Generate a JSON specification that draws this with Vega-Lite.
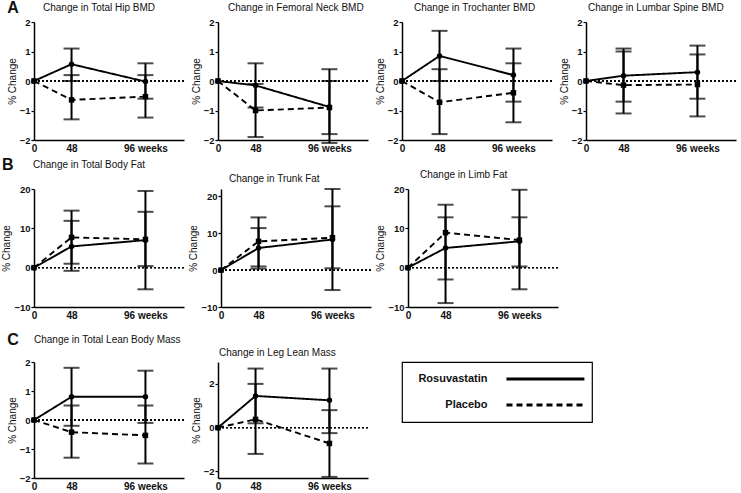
{
"$schema": "https://vega.github.io/schema/vega-lite/v6.json",
"padding": {"left": 1, "top": 0, "right": 0, "bottom": 0},
"background": "white",
"datasets": {
"d": [
{"p":"hip","g":"Rosuvastatin","w":0,"m":0},
{"p":"hip","g":"Rosuvastatin","w":48,"m":0.57,"lo":0.0,"hi":1.1},
{"p":"hip","g":"Rosuvastatin","w":96,"m":-0.02,"lo":-0.6,"hi":0.6},
{"p":"hip","g":"Placebo","w":0,"m":0},
{"p":"hip","g":"Placebo","w":48,"m":-0.64,"lo":-1.3,"hi":0.2},
{"p":"hip","g":"Placebo","w":96,"m":-0.53,"lo":-1.24,"hi":0.2},
{"p":"neck","g":"Rosuvastatin","w":0,"m":0},
{"p":"neck","g":"Rosuvastatin","w":48,"m":-0.15,"lo":-0.9,"hi":0.6},
{"p":"neck","g":"Rosuvastatin","w":96,"m":-0.88,"lo":-2.1,"hi":0.4},
{"p":"neck","g":"Placebo","w":0,"m":0},
{"p":"neck","g":"Placebo","w":48,"m":-1.0,"lo":-1.9,"hi":-0.1},
{"p":"neck","g":"Placebo","w":96,"m":-0.9,"lo":-1.8,"hi":0.0},
{"p":"troch","g":"Rosuvastatin","w":0,"m":0},
{"p":"troch","g":"Rosuvastatin","w":48,"m":0.85,"lo":0.0,"hi":1.7},
{"p":"troch","g":"Rosuvastatin","w":96,"m":0.2,"lo":-0.7,"hi":1.1},
{"p":"troch","g":"Placebo","w":0,"m":0},
{"p":"troch","g":"Placebo","w":48,"m":-0.72,"lo":-1.8,"hi":0.4},
{"p":"troch","g":"Placebo","w":96,"m":-0.4,"lo":-1.4,"hi":0.6},
{"p":"lumbar","g":"Rosuvastatin","w":0,"m":0},
{"p":"lumbar","g":"Rosuvastatin","w":48,"m":0.18,"lo":-0.7,"hi":1.1},
{"p":"lumbar","g":"Rosuvastatin","w":96,"m":0.3,"lo":-0.6,"hi":1.2},
{"p":"lumbar","g":"Placebo","w":0,"m":0},
{"p":"lumbar","g":"Placebo","w":48,"m":-0.14,"lo":-1.1,"hi":1.0},
{"p":"lumbar","g":"Placebo","w":96,"m":-0.12,"lo":-1.2,"hi":0.9},
{"p":"fat","g":"Rosuvastatin","w":0,"m":0},
{"p":"fat","g":"Rosuvastatin","w":48,"m":5.4,"lo":-0.8,"hi":11.9},
{"p":"fat","g":"Rosuvastatin","w":96,"m":7.0,"lo":-5.5,"hi":19.5},
{"p":"fat","g":"Placebo","w":0,"m":0},
{"p":"fat","g":"Placebo","w":48,"m":7.7,"lo":1.0,"hi":14.5},
{"p":"fat","g":"Placebo","w":96,"m":7.2,"lo":0.4,"hi":14.2},
{"p":"trunk","g":"Rosuvastatin","w":0,"m":0},
{"p":"trunk","g":"Rosuvastatin","w":48,"m":6.0,"lo":0.4,"hi":11.4},
{"p":"trunk","g":"Rosuvastatin","w":96,"m":8.3,"lo":-5.4,"hi":22.0},
{"p":"trunk","g":"Placebo","w":0,"m":0},
{"p":"trunk","g":"Placebo","w":48,"m":7.8,"lo":1.0,"hi":14.3},
{"p":"trunk","g":"Placebo","w":96,"m":8.8,"lo":0.5,"hi":17.3},
{"p":"limb","g":"Rosuvastatin","w":0,"m":0},
{"p":"limb","g":"Rosuvastatin","w":48,"m":5.0,"lo":-3.0,"hi":12.8},
{"p":"limb","g":"Rosuvastatin","w":96,"m":6.7,"lo":-5.5,"hi":19.8},
{"p":"limb","g":"Placebo","w":0,"m":0},
{"p":"limb","g":"Placebo","w":48,"m":8.9,"lo":-9.0,"hi":16.0},
{"p":"limb","g":"Placebo","w":96,"m":7.0,"lo":0.3,"hi":12.8},
{"p":"lean","g":"Rosuvastatin","w":0,"m":0},
{"p":"lean","g":"Rosuvastatin","w":48,"m":0.8,"lo":-0.2,"hi":1.8},
{"p":"lean","g":"Rosuvastatin","w":96,"m":0.8,"lo":-0.1,"hi":1.7},
{"p":"lean","g":"Placebo","w":0,"m":0},
{"p":"lean","g":"Placebo","w":48,"m":-0.42,"lo":-1.3,"hi":0.5},
{"p":"lean","g":"Placebo","w":96,"m":-0.53,"lo":-1.5,"hi":0.5},
{"p":"leg","g":"Rosuvastatin","w":0,"m":0},
{"p":"leg","g":"Rosuvastatin","w":48,"m":1.45,"lo":0.2,"hi":2.7},
{"p":"leg","g":"Rosuvastatin","w":96,"m":1.25,"lo":-0.25,"hi":2.7},
{"p":"leg","g":"Placebo","w":0,"m":0},
{"p":"leg","g":"Placebo","w":48,"m":0.38,"lo":-1.2,"hi":2.0},
{"p":"leg","g":"Placebo","w":96,"m":-0.72,"lo":-2.25,"hi":0.8}
],
"legend": [{"g":"Rosuvastatin"},{"g":"Placebo"}]
},
"data": {"name": "d"},
"spacing": 12,
"vconcat": [
{"spacing": 4, "vconcat": [
{
"title": {"text": "A", "anchor": "start", "frame": "bounds", "fontSize": 16, "fontWeight": "bold", "offset": -13},
"spacing": 6,
"hconcat": [
{"width":150,"height":118,"title":{"text":"Change in Total Hip BMD","offset":4,"anchor":"start","frame":"group","dx":9},
"transform":[{"filter":"datum.p == 'hip'"}],
"layer":[
{"mark":{"type":"rule","strokeDash":[2,2],"strokeWidth":1,"color":"black"},"encoding":{"y":{"datum":0,"type":"quantitative","scale":{"domain":[-2,2],"nice":false},"axis":{"values":[-2,-1,0,1,2]},"title":"% Change"}}},
{"mark":{"type":"rule","strokeWidth":2,"color":"black"},"encoding":{"x":{"field":"w","type":"quantitative","scale":{"type":"pow","exponent":1.57,"domain":[0,116],"nice":false},"axis":{"values":[0,48,96],"labelExpr":"datum.value == 96 ? '96 weeks' : datum.label"},"title":null},"y":{"field":"lo","type":"quantitative","scale":{"domain":[-2,2],"nice":false},"axis":{"values":[-2,-1,0,1,2]},"title":"% Change"},"y2":{"field":"hi"}}},
{"transform":[{"fold":["lo","hi"],"as":["k","v"]},{"filter":"isValid(datum.v)"}],"mark":{"type":"tick","orient":"horizontal","size":16,"thickness":2,"color":"black"},"encoding":{"x":{"field":"w","type":"quantitative","scale":{"type":"pow","exponent":1.57,"domain":[0,116],"nice":false},"axis":{"values":[0,48,96],"labelExpr":"datum.value == 96 ? '96 weeks' : datum.label"},"title":null},"y":{"field":"v","type":"quantitative","scale":{"domain":[-2,2],"nice":false},"axis":{"values":[-2,-1,0,1,2]},"title":"% Change"}}},
{"mark":{"type":"line","color":"black","strokeWidth":1.9},"encoding":{"x":{"field":"w","type":"quantitative","scale":{"type":"pow","exponent":1.57,"domain":[0,116],"nice":false},"axis":{"values":[0,48,96],"labelExpr":"datum.value == 96 ? '96 weeks' : datum.label"},"title":null},"y":{"field":"m","type":"quantitative","scale":{"domain":[-2,2],"nice":false},"axis":{"values":[-2,-1,0,1,2]},"title":"% Change"},"strokeDash":{"field":"g","type":"nominal","scale":{"domain":["Rosuvastatin","Placebo"],"range":[[1,0],[6,4]]},"legend":null}}},
{"mark":{"type":"point","filled":true,"color":"black","opacity":1,"size":30},"encoding":{"x":{"field":"w","type":"quantitative","scale":{"type":"pow","exponent":1.57,"domain":[0,116],"nice":false},"axis":{"values":[0,48,96],"labelExpr":"datum.value == 96 ? '96 weeks' : datum.label"},"title":null},"y":{"field":"m","type":"quantitative","scale":{"domain":[-2,2],"nice":false},"axis":{"values":[-2,-1,0,1,2]},"title":"% Change"},"shape":{"field":"g","type":"nominal","scale":{"domain":["Rosuvastatin","Placebo"],"range":["circle","square"]},"legend":null}}}
]},
{"width":150,"height":118,"title":{"text":"Change in Femoral Neck BMD","offset":4,"anchor":"start","frame":"group","dx":10},
"transform":[{"filter":"datum.p == 'neck'"}],
"layer":[
{"mark":{"type":"rule","strokeDash":[2,2],"strokeWidth":1,"color":"black"},"encoding":{"y":{"datum":0,"type":"quantitative","scale":{"domain":[-2,2],"nice":false},"axis":{"values":[-2,-1,0,1,2]},"title":"% Change"}}},
{"mark":{"type":"rule","strokeWidth":2,"color":"black"},"encoding":{"x":{"field":"w","type":"quantitative","scale":{"type":"pow","exponent":1.57,"domain":[0,116],"nice":false},"axis":{"values":[0,48,96],"labelExpr":"datum.value == 96 ? '96 weeks' : datum.label"},"title":null},"y":{"field":"lo","type":"quantitative","scale":{"domain":[-2,2],"nice":false},"axis":{"values":[-2,-1,0,1,2]},"title":"% Change"},"y2":{"field":"hi"}}},
{"transform":[{"fold":["lo","hi"],"as":["k","v"]},{"filter":"isValid(datum.v)"}],"mark":{"type":"tick","orient":"horizontal","size":16,"thickness":2,"color":"black"},"encoding":{"x":{"field":"w","type":"quantitative","scale":{"type":"pow","exponent":1.57,"domain":[0,116],"nice":false},"axis":{"values":[0,48,96],"labelExpr":"datum.value == 96 ? '96 weeks' : datum.label"},"title":null},"y":{"field":"v","type":"quantitative","scale":{"domain":[-2,2],"nice":false},"axis":{"values":[-2,-1,0,1,2]},"title":"% Change"}}},
{"mark":{"type":"line","color":"black","strokeWidth":1.9},"encoding":{"x":{"field":"w","type":"quantitative","scale":{"type":"pow","exponent":1.57,"domain":[0,116],"nice":false},"axis":{"values":[0,48,96],"labelExpr":"datum.value == 96 ? '96 weeks' : datum.label"},"title":null},"y":{"field":"m","type":"quantitative","scale":{"domain":[-2,2],"nice":false},"axis":{"values":[-2,-1,0,1,2]},"title":"% Change"},"strokeDash":{"field":"g","type":"nominal","scale":{"domain":["Rosuvastatin","Placebo"],"range":[[1,0],[6,4]]},"legend":null}}},
{"mark":{"type":"point","filled":true,"color":"black","opacity":1,"size":30},"encoding":{"x":{"field":"w","type":"quantitative","scale":{"type":"pow","exponent":1.57,"domain":[0,116],"nice":false},"axis":{"values":[0,48,96],"labelExpr":"datum.value == 96 ? '96 weeks' : datum.label"},"title":null},"y":{"field":"m","type":"quantitative","scale":{"domain":[-2,2],"nice":false},"axis":{"values":[-2,-1,0,1,2]},"title":"% Change"},"shape":{"field":"g","type":"nominal","scale":{"domain":["Rosuvastatin","Placebo"],"range":["circle","square"]},"legend":null}}}
]},
{"width":150,"height":118,"title":{"text":"Change in Trochanter BMD","offset":4,"anchor":"start","frame":"group","dx":12},
"transform":[{"filter":"datum.p == 'troch'"}],
"layer":[
{"mark":{"type":"rule","strokeDash":[2,2],"strokeWidth":1,"color":"black"},"encoding":{"y":{"datum":0,"type":"quantitative","scale":{"domain":[-2,2],"nice":false},"axis":{"values":[-2,-1,0,1,2]},"title":"% Change"}}},
{"mark":{"type":"rule","strokeWidth":2,"color":"black"},"encoding":{"x":{"field":"w","type":"quantitative","scale":{"type":"pow","exponent":1.57,"domain":[0,116],"nice":false},"axis":{"values":[0,48,96],"labelExpr":"datum.value == 96 ? '96 weeks' : datum.label"},"title":null},"y":{"field":"lo","type":"quantitative","scale":{"domain":[-2,2],"nice":false},"axis":{"values":[-2,-1,0,1,2]},"title":"% Change"},"y2":{"field":"hi"}}},
{"transform":[{"fold":["lo","hi"],"as":["k","v"]},{"filter":"isValid(datum.v)"}],"mark":{"type":"tick","orient":"horizontal","size":16,"thickness":2,"color":"black"},"encoding":{"x":{"field":"w","type":"quantitative","scale":{"type":"pow","exponent":1.57,"domain":[0,116],"nice":false},"axis":{"values":[0,48,96],"labelExpr":"datum.value == 96 ? '96 weeks' : datum.label"},"title":null},"y":{"field":"v","type":"quantitative","scale":{"domain":[-2,2],"nice":false},"axis":{"values":[-2,-1,0,1,2]},"title":"% Change"}}},
{"mark":{"type":"line","color":"black","strokeWidth":1.9},"encoding":{"x":{"field":"w","type":"quantitative","scale":{"type":"pow","exponent":1.57,"domain":[0,116],"nice":false},"axis":{"values":[0,48,96],"labelExpr":"datum.value == 96 ? '96 weeks' : datum.label"},"title":null},"y":{"field":"m","type":"quantitative","scale":{"domain":[-2,2],"nice":false},"axis":{"values":[-2,-1,0,1,2]},"title":"% Change"},"strokeDash":{"field":"g","type":"nominal","scale":{"domain":["Rosuvastatin","Placebo"],"range":[[1,0],[6,4]]},"legend":null}}},
{"mark":{"type":"point","filled":true,"color":"black","opacity":1,"size":30},"encoding":{"x":{"field":"w","type":"quantitative","scale":{"type":"pow","exponent":1.57,"domain":[0,116],"nice":false},"axis":{"values":[0,48,96],"labelExpr":"datum.value == 96 ? '96 weeks' : datum.label"},"title":null},"y":{"field":"m","type":"quantitative","scale":{"domain":[-2,2],"nice":false},"axis":{"values":[-2,-1,0,1,2]},"title":"% Change"},"shape":{"field":"g","type":"nominal","scale":{"domain":["Rosuvastatin","Placebo"],"range":["circle","square"]},"legend":null}}}
]},
{"width":150,"height":118,"title":{"text":"Change in Lumbar  Spine BMD","offset":4,"anchor":"start","frame":"group","dx":2},
"transform":[{"filter":"datum.p == 'lumbar'"}],
"layer":[
{"mark":{"type":"rule","strokeDash":[2,2],"strokeWidth":1,"color":"black"},"encoding":{"y":{"datum":0,"type":"quantitative","scale":{"domain":[-2,2],"nice":false},"axis":{"values":[-2,-1,0,1,2]},"title":"% Change"}}},
{"mark":{"type":"rule","strokeWidth":2,"color":"black"},"encoding":{"x":{"field":"w","type":"quantitative","scale":{"type":"pow","exponent":1.57,"domain":[0,116],"nice":false},"axis":{"values":[0,48,96],"labelExpr":"datum.value == 96 ? '96 weeks' : datum.label"},"title":null},"y":{"field":"lo","type":"quantitative","scale":{"domain":[-2,2],"nice":false},"axis":{"values":[-2,-1,0,1,2]},"title":"% Change"},"y2":{"field":"hi"}}},
{"transform":[{"fold":["lo","hi"],"as":["k","v"]},{"filter":"isValid(datum.v)"}],"mark":{"type":"tick","orient":"horizontal","size":16,"thickness":2,"color":"black"},"encoding":{"x":{"field":"w","type":"quantitative","scale":{"type":"pow","exponent":1.57,"domain":[0,116],"nice":false},"axis":{"values":[0,48,96],"labelExpr":"datum.value == 96 ? '96 weeks' : datum.label"},"title":null},"y":{"field":"v","type":"quantitative","scale":{"domain":[-2,2],"nice":false},"axis":{"values":[-2,-1,0,1,2]},"title":"% Change"}}},
{"mark":{"type":"line","color":"black","strokeWidth":1.9},"encoding":{"x":{"field":"w","type":"quantitative","scale":{"type":"pow","exponent":1.57,"domain":[0,116],"nice":false},"axis":{"values":[0,48,96],"labelExpr":"datum.value == 96 ? '96 weeks' : datum.label"},"title":null},"y":{"field":"m","type":"quantitative","scale":{"domain":[-2,2],"nice":false},"axis":{"values":[-2,-1,0,1,2]},"title":"% Change"},"strokeDash":{"field":"g","type":"nominal","scale":{"domain":["Rosuvastatin","Placebo"],"range":[[1,0],[6,4]]},"legend":null}}},
{"mark":{"type":"point","filled":true,"color":"black","opacity":1,"size":30},"encoding":{"x":{"field":"w","type":"quantitative","scale":{"type":"pow","exponent":1.57,"domain":[0,116],"nice":false},"axis":{"values":[0,48,96],"labelExpr":"datum.value == 96 ? '96 weeks' : datum.label"},"title":null},"y":{"field":"m","type":"quantitative","scale":{"domain":[-2,2],"nice":false},"axis":{"values":[-2,-1,0,1,2]},"title":"% Change"},"shape":{"field":"g","type":"nominal","scale":{"domain":["Rosuvastatin","Placebo"],"range":["circle","square"]},"legend":null}}}
]}
]
},
{
"title": {"text": "B", "anchor": "start", "frame": "bounds", "fontSize": 16, "fontWeight": "bold", "offset": -13},
"spacing": 3,
"hconcat": [
{"width":150,"height":118,"title":{"text":"Change in Total Body  Fat","offset":14,"anchor":"start","frame":"group","dx":-1},
"transform":[{"filter":"datum.p == 'fat'"}],
"layer":[
{"mark":{"type":"rule","strokeDash":[2,2],"strokeWidth":1,"color":"black"},"encoding":{"y":{"datum":0,"type":"quantitative","scale":{"domain":[-10,20],"nice":false},"axis":{"values":[-10,0,10,20]},"title":"% Change"}}},
{"mark":{"type":"rule","strokeWidth":2,"color":"black"},"encoding":{"x":{"field":"w","type":"quantitative","scale":{"type":"pow","exponent":1.57,"domain":[0,116],"nice":false},"axis":{"values":[0,48,96],"labelExpr":"datum.value == 96 ? '96 weeks' : datum.label"},"title":null},"y":{"field":"lo","type":"quantitative","scale":{"domain":[-10,20],"nice":false},"axis":{"values":[-10,0,10,20]},"title":"% Change"},"y2":{"field":"hi"}}},
{"transform":[{"fold":["lo","hi"],"as":["k","v"]},{"filter":"isValid(datum.v)"}],"mark":{"type":"tick","orient":"horizontal","size":16,"thickness":2,"color":"black"},"encoding":{"x":{"field":"w","type":"quantitative","scale":{"type":"pow","exponent":1.57,"domain":[0,116],"nice":false},"axis":{"values":[0,48,96],"labelExpr":"datum.value == 96 ? '96 weeks' : datum.label"},"title":null},"y":{"field":"v","type":"quantitative","scale":{"domain":[-10,20],"nice":false},"axis":{"values":[-10,0,10,20]},"title":"% Change"}}},
{"mark":{"type":"line","color":"black","strokeWidth":1.9},"encoding":{"x":{"field":"w","type":"quantitative","scale":{"type":"pow","exponent":1.57,"domain":[0,116],"nice":false},"axis":{"values":[0,48,96],"labelExpr":"datum.value == 96 ? '96 weeks' : datum.label"},"title":null},"y":{"field":"m","type":"quantitative","scale":{"domain":[-10,20],"nice":false},"axis":{"values":[-10,0,10,20]},"title":"% Change"},"strokeDash":{"field":"g","type":"nominal","scale":{"domain":["Rosuvastatin","Placebo"],"range":[[1,0],[6,4]]},"legend":null}}},
{"mark":{"type":"point","filled":true,"color":"black","opacity":1,"size":30},"encoding":{"x":{"field":"w","type":"quantitative","scale":{"type":"pow","exponent":1.57,"domain":[0,116],"nice":false},"axis":{"values":[0,48,96],"labelExpr":"datum.value == 96 ? '96 weeks' : datum.label"},"title":null},"y":{"field":"m","type":"quantitative","scale":{"domain":[-10,20],"nice":false},"axis":{"values":[-10,0,10,20]},"title":"% Change"},"shape":{"field":"g","type":"nominal","scale":{"domain":["Rosuvastatin","Placebo"],"range":["circle","square"]},"legend":null}}}
]},
{"width":150,"height":118,"title":{"text":"Change in Trunk Fat","offset":4,"anchor":"start","frame":"group","dx":8},
"transform":[{"filter":"datum.p == 'trunk'"}],
"layer":[
{"mark":{"type":"rule","strokeDash":[2,2],"strokeWidth":1,"color":"black"},"encoding":{"y":{"datum":0,"type":"quantitative","scale":{"domain":[-10,22],"nice":false},"axis":{"values":[-10,0,10,20]},"title":"% Change"}}},
{"mark":{"type":"rule","strokeWidth":2,"color":"black"},"encoding":{"x":{"field":"w","type":"quantitative","scale":{"type":"pow","exponent":1.57,"domain":[0,116],"nice":false},"axis":{"values":[0,48,96],"labelExpr":"datum.value == 96 ? '96 weeks' : datum.label"},"title":null},"y":{"field":"lo","type":"quantitative","scale":{"domain":[-10,22],"nice":false},"axis":{"values":[-10,0,10,20]},"title":"% Change"},"y2":{"field":"hi"}}},
{"transform":[{"fold":["lo","hi"],"as":["k","v"]},{"filter":"isValid(datum.v)"}],"mark":{"type":"tick","orient":"horizontal","size":16,"thickness":2,"color":"black"},"encoding":{"x":{"field":"w","type":"quantitative","scale":{"type":"pow","exponent":1.57,"domain":[0,116],"nice":false},"axis":{"values":[0,48,96],"labelExpr":"datum.value == 96 ? '96 weeks' : datum.label"},"title":null},"y":{"field":"v","type":"quantitative","scale":{"domain":[-10,22],"nice":false},"axis":{"values":[-10,0,10,20]},"title":"% Change"}}},
{"mark":{"type":"line","color":"black","strokeWidth":1.9},"encoding":{"x":{"field":"w","type":"quantitative","scale":{"type":"pow","exponent":1.57,"domain":[0,116],"nice":false},"axis":{"values":[0,48,96],"labelExpr":"datum.value == 96 ? '96 weeks' : datum.label"},"title":null},"y":{"field":"m","type":"quantitative","scale":{"domain":[-10,22],"nice":false},"axis":{"values":[-10,0,10,20]},"title":"% Change"},"strokeDash":{"field":"g","type":"nominal","scale":{"domain":["Rosuvastatin","Placebo"],"range":[[1,0],[6,4]]},"legend":null}}},
{"mark":{"type":"point","filled":true,"color":"black","opacity":1,"size":30},"encoding":{"x":{"field":"w","type":"quantitative","scale":{"type":"pow","exponent":1.57,"domain":[0,116],"nice":false},"axis":{"values":[0,48,96],"labelExpr":"datum.value == 96 ? '96 weeks' : datum.label"},"title":null},"y":{"field":"m","type":"quantitative","scale":{"domain":[-10,22],"nice":false},"axis":{"values":[-10,0,10,20]},"title":"% Change"},"shape":{"field":"g","type":"nominal","scale":{"domain":["Rosuvastatin","Placebo"],"range":["circle","square"]},"legend":null}}}
]},
{"width":150,"height":118,"title":{"text":"Change in Limb Fat","offset":4,"anchor":"start","frame":"group","dx":12},
"transform":[{"filter":"datum.p == 'limb'"}],
"layer":[
{"mark":{"type":"rule","strokeDash":[2,2],"strokeWidth":1,"color":"black"},"encoding":{"y":{"datum":0,"type":"quantitative","scale":{"domain":[-10,20],"nice":false},"axis":{"values":[-10,0,10,20]},"title":"% Change"}}},
{"mark":{"type":"rule","strokeWidth":2,"color":"black"},"encoding":{"x":{"field":"w","type":"quantitative","scale":{"type":"pow","exponent":1.57,"domain":[0,116],"nice":false},"axis":{"values":[0,48,96],"labelExpr":"datum.value == 96 ? '96 weeks' : datum.label"},"title":null},"y":{"field":"lo","type":"quantitative","scale":{"domain":[-10,20],"nice":false},"axis":{"values":[-10,0,10,20]},"title":"% Change"},"y2":{"field":"hi"}}},
{"transform":[{"fold":["lo","hi"],"as":["k","v"]},{"filter":"isValid(datum.v)"}],"mark":{"type":"tick","orient":"horizontal","size":16,"thickness":2,"color":"black"},"encoding":{"x":{"field":"w","type":"quantitative","scale":{"type":"pow","exponent":1.57,"domain":[0,116],"nice":false},"axis":{"values":[0,48,96],"labelExpr":"datum.value == 96 ? '96 weeks' : datum.label"},"title":null},"y":{"field":"v","type":"quantitative","scale":{"domain":[-10,20],"nice":false},"axis":{"values":[-10,0,10,20]},"title":"% Change"}}},
{"mark":{"type":"line","color":"black","strokeWidth":1.9},"encoding":{"x":{"field":"w","type":"quantitative","scale":{"type":"pow","exponent":1.57,"domain":[0,116],"nice":false},"axis":{"values":[0,48,96],"labelExpr":"datum.value == 96 ? '96 weeks' : datum.label"},"title":null},"y":{"field":"m","type":"quantitative","scale":{"domain":[-10,20],"nice":false},"axis":{"values":[-10,0,10,20]},"title":"% Change"},"strokeDash":{"field":"g","type":"nominal","scale":{"domain":["Rosuvastatin","Placebo"],"range":[[1,0],[6,4]]},"legend":null}}},
{"mark":{"type":"point","filled":true,"color":"black","opacity":1,"size":30},"encoding":{"x":{"field":"w","type":"quantitative","scale":{"type":"pow","exponent":1.57,"domain":[0,116],"nice":false},"axis":{"values":[0,48,96],"labelExpr":"datum.value == 96 ? '96 weeks' : datum.label"},"title":null},"y":{"field":"m","type":"quantitative","scale":{"domain":[-10,20],"nice":false},"axis":{"values":[-10,0,10,20]},"title":"% Change"},"shape":{"field":"g","type":"nominal","scale":{"domain":["Rosuvastatin","Placebo"],"range":["circle","square"]},"legend":null}}}
]}
]
}
]},
{
"title": {"text": "C", "anchor": "start", "frame": "bounds", "fontSize": 16, "fontWeight": "bold", "offset": -13},
"spacing": 32,
"hconcat": [
{"spacing": 6, "hconcat": [
{"width":150,"height":116,"title":{"text":"Change in Total Lean Body Mass","offset":12,"anchor":"start","frame":"group","dx":0},
"transform":[{"filter":"datum.p == 'lean'"}],
"layer":[
{"mark":{"type":"rule","strokeDash":[2,2],"strokeWidth":1,"color":"black"},"encoding":{"y":{"datum":0,"type":"quantitative","scale":{"domain":[-2,2],"nice":false},"axis":{"values":[-2,-1,0,1,2]},"title":"% Change"}}},
{"mark":{"type":"rule","strokeWidth":2,"color":"black"},"encoding":{"x":{"field":"w","type":"quantitative","scale":{"type":"pow","exponent":1.57,"domain":[0,116],"nice":false},"axis":{"values":[0,48,96],"labelExpr":"datum.value == 96 ? '96 weeks' : datum.label"},"title":null},"y":{"field":"lo","type":"quantitative","scale":{"domain":[-2,2],"nice":false},"axis":{"values":[-2,-1,0,1,2]},"title":"% Change"},"y2":{"field":"hi"}}},
{"transform":[{"fold":["lo","hi"],"as":["k","v"]},{"filter":"isValid(datum.v)"}],"mark":{"type":"tick","orient":"horizontal","size":16,"thickness":2,"color":"black"},"encoding":{"x":{"field":"w","type":"quantitative","scale":{"type":"pow","exponent":1.57,"domain":[0,116],"nice":false},"axis":{"values":[0,48,96],"labelExpr":"datum.value == 96 ? '96 weeks' : datum.label"},"title":null},"y":{"field":"v","type":"quantitative","scale":{"domain":[-2,2],"nice":false},"axis":{"values":[-2,-1,0,1,2]},"title":"% Change"}}},
{"mark":{"type":"line","color":"black","strokeWidth":1.9},"encoding":{"x":{"field":"w","type":"quantitative","scale":{"type":"pow","exponent":1.57,"domain":[0,116],"nice":false},"axis":{"values":[0,48,96],"labelExpr":"datum.value == 96 ? '96 weeks' : datum.label"},"title":null},"y":{"field":"m","type":"quantitative","scale":{"domain":[-2,2],"nice":false},"axis":{"values":[-2,-1,0,1,2]},"title":"% Change"},"strokeDash":{"field":"g","type":"nominal","scale":{"domain":["Rosuvastatin","Placebo"],"range":[[1,0],[6,4]]},"legend":null}}},
{"mark":{"type":"point","filled":true,"color":"black","opacity":1,"size":30},"encoding":{"x":{"field":"w","type":"quantitative","scale":{"type":"pow","exponent":1.57,"domain":[0,116],"nice":false},"axis":{"values":[0,48,96],"labelExpr":"datum.value == 96 ? '96 weeks' : datum.label"},"title":null},"y":{"field":"m","type":"quantitative","scale":{"domain":[-2,2],"nice":false},"axis":{"values":[-2,-1,0,1,2]},"title":"% Change"},"shape":{"field":"g","type":"nominal","scale":{"domain":["Rosuvastatin","Placebo"],"range":["circle","square"]},"legend":null}}}
]},
{"width":150,"height":116,"title":{"text":"Change in Leg Lean Mass","offset":4,"anchor":"start","frame":"group","dx":1},
"transform":[{"filter":"datum.p == 'leg'"}],
"layer":[
{"mark":{"type":"rule","strokeDash":[2,2],"strokeWidth":1,"color":"black"},"encoding":{"y":{"datum":0,"type":"quantitative","scale":{"domain":[-2.3,3],"nice":false},"axis":{"values":[-2,0,2]},"title":"% Change"}}},
{"mark":{"type":"rule","strokeWidth":2,"color":"black"},"encoding":{"x":{"field":"w","type":"quantitative","scale":{"type":"pow","exponent":1.57,"domain":[0,116],"nice":false},"axis":{"values":[0,48,96],"labelExpr":"datum.value == 96 ? '96 weeks' : datum.label"},"title":null},"y":{"field":"lo","type":"quantitative","scale":{"domain":[-2.3,3],"nice":false},"axis":{"values":[-2,0,2]},"title":"% Change"},"y2":{"field":"hi"}}},
{"transform":[{"fold":["lo","hi"],"as":["k","v"]},{"filter":"isValid(datum.v)"}],"mark":{"type":"tick","orient":"horizontal","size":16,"thickness":2,"color":"black"},"encoding":{"x":{"field":"w","type":"quantitative","scale":{"type":"pow","exponent":1.57,"domain":[0,116],"nice":false},"axis":{"values":[0,48,96],"labelExpr":"datum.value == 96 ? '96 weeks' : datum.label"},"title":null},"y":{"field":"v","type":"quantitative","scale":{"domain":[-2.3,3],"nice":false},"axis":{"values":[-2,0,2]},"title":"% Change"}}},
{"mark":{"type":"line","color":"black","strokeWidth":1.9},"encoding":{"x":{"field":"w","type":"quantitative","scale":{"type":"pow","exponent":1.57,"domain":[0,116],"nice":false},"axis":{"values":[0,48,96],"labelExpr":"datum.value == 96 ? '96 weeks' : datum.label"},"title":null},"y":{"field":"m","type":"quantitative","scale":{"domain":[-2.3,3],"nice":false},"axis":{"values":[-2,0,2]},"title":"% Change"},"strokeDash":{"field":"g","type":"nominal","scale":{"domain":["Rosuvastatin","Placebo"],"range":[[1,0],[6,4]]},"legend":null}}},
{"mark":{"type":"point","filled":true,"color":"black","opacity":1,"size":30},"encoding":{"x":{"field":"w","type":"quantitative","scale":{"type":"pow","exponent":1.57,"domain":[0,116],"nice":false},"axis":{"values":[0,48,96],"labelExpr":"datum.value == 96 ? '96 weeks' : datum.label"},"title":null},"y":{"field":"m","type":"quantitative","scale":{"domain":[-2.3,3],"nice":false},"axis":{"values":[-2,0,2]},"title":"% Change"},"shape":{"field":"g","type":"nominal","scale":{"domain":["Rosuvastatin","Placebo"],"range":["circle","square"]},"legend":null}}}
]}
]},
{"width":190,"height":60,
"view":{"stroke":"black","strokeWidth":1.2},
"data":{"name":"legend"},
"layer":[
{"mark":{"type":"text","align":"right","baseline":"middle","fontWeight":"bold","fontSize":11,"color":"#111"},
"encoding":{"x":{"datum":0.45,"type":"quantitative","scale":{"domain":[0,1]},"axis":null},"y":{"field":"g","type":"nominal","scale":{"type":"point","domain":["Rosuvastatin","Placebo"],"padding":0.65},"axis":null},"text":{"field":"g"}}},
{"mark":{"type":"rule","color":"black","strokeWidth":3},
"encoding":{"x":{"datum":0.55,"type":"quantitative","scale":{"domain":[0,1]},"axis":null},"x2":{"datum":0.96},"y":{"field":"g","type":"nominal","scale":{"type":"point","domain":["Rosuvastatin","Placebo"],"padding":0.65},"axis":null},"strokeDash":{"field":"g","type":"nominal","scale":{"domain":["Rosuvastatin","Placebo"],"range":[[1,0],[8,5]]},"legend":null}}}
]}
]
}
],
"config": {
"font": "Liberation Sans",
"view": {"stroke": null},
"title": {"fontSize": 10, "fontWeight": "normal", "color": "#111", "anchor": "middle"},
"axis": {"domainColor": "black", "domainWidth": 1.5, "tickColor": "black", "grid": false, "labelColor": "#111", "titleColor": "#111"},
"axisX": {"ticks": false, "labelFontSize": 10, "labelFontWeight": "bold", "labelPadding": 3, "labelFlush": false, "labelDx": 4, "labelAngle": 0},
"axisY": {"tickSize": 3, "tickWidth": 1.2, "labelFontSize": 9.5, "labelFontWeight": "bold", "labelPadding": 1, "titleFontSize": 10, "titleFontWeight": "normal", "titlePadding": 2}
}
}
